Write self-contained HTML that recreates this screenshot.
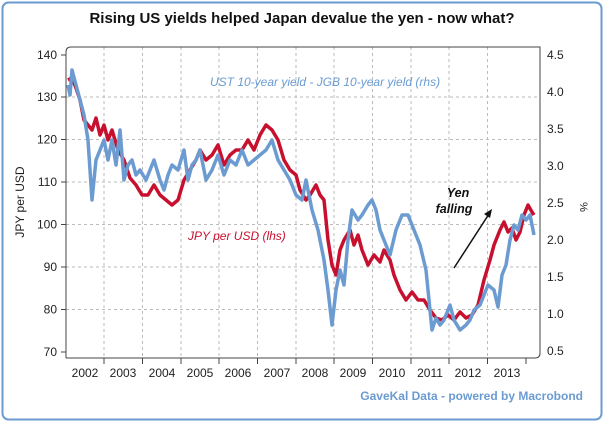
<!DOCTYPE html>
<html><head><style>body{margin:0;background:#fff}svg{display:block;font-family:"Liberation Sans",sans-serif}</style></head><body>
<svg width="605" height="423" viewBox="0 0 605 423">
<rect x="2.5" y="2.5" width="599" height="417" rx="6" fill="#fff" stroke="#6b9bd1" stroke-width="2"/>
<text x="302" y="23" text-anchor="middle" font-size="15" font-weight="bold" fill="#111">Rising US yields helped Japan devalue the yen - now what?</text>
<g stroke="#bbb" stroke-dasharray="3,3" stroke-width="1">
<line x1="66" x2="540" y1="97" y2="97"/><line x1="66" x2="540" y1="139.5" y2="139.5"/><line x1="66" x2="540" y1="182" y2="182"/><line x1="66" x2="540" y1="224.5" y2="224.5"/><line x1="66" x2="540" y1="267" y2="267"/><line x1="66" x2="540" y1="309.5" y2="309.5"/>
<line y1="47" y2="358" x1="104" x2="104"/><line y1="47" y2="358" x1="142.5" x2="142.5"/><line y1="47" y2="358" x1="181" x2="181"/><line y1="47" y2="358" x1="219" x2="219"/><line y1="47" y2="358" x1="257.5" x2="257.5"/><line y1="47" y2="358" x1="296" x2="296"/><line y1="47" y2="358" x1="334" x2="334"/><line y1="47" y2="358" x1="372.5" x2="372.5"/><line y1="47" y2="358" x1="411" x2="411"/><line y1="47" y2="358" x1="449" x2="449"/><line y1="47" y2="358" x1="487.5" x2="487.5"/>
</g>
<path d="M66,358 V52 Q66,47 71,47 H540 V353 Q540,358 535,358 H66" fill="none" stroke="#444"/>
<g stroke="#444"><line x1="61" x2="66" y1="55" y2="55"/><line x1="61" x2="66" y1="97" y2="97"/><line x1="61" x2="66" y1="139.5" y2="139.5"/><line x1="61" x2="66" y1="182" y2="182"/><line x1="61" x2="66" y1="224.5" y2="224.5"/><line x1="61" x2="66" y1="267" y2="267"/><line x1="61" x2="66" y1="309.5" y2="309.5"/><line x1="61" x2="66" y1="352" y2="352"/></g>
<g font-size="12" fill="#222" text-anchor="end"><text x="57" y="59">140</text><text x="57" y="101">130</text><text x="57" y="143.5">120</text><text x="57" y="186">110</text><text x="57" y="228.5">100</text><text x="57" y="271">90</text><text x="57" y="313.5">80</text><text x="57" y="356">70</text></g>
<g font-size="12" fill="#222"><text x="547" y="59">4.5</text><text x="547" y="96">4.0</text><text x="547" y="133">3.5</text><text x="547" y="170">3.0</text><text x="547" y="207">2.5</text><text x="547" y="244">2.0</text><text x="547" y="281">1.5</text><text x="547" y="318">1.0</text><text x="547" y="355">0.5</text></g>
<text transform="translate(24,202) rotate(-90)" text-anchor="middle" font-size="12" fill="#222">JPY per USD</text>
<text transform="translate(580,207) rotate(90)" text-anchor="middle" font-size="11" fill="#222">%</text>
<g font-size="12" fill="#222" text-anchor="middle"><text x="85" y="377">2002</text><text x="123" y="377">2003</text><text x="162" y="377">2004</text><text x="200" y="377">2005</text><text x="238" y="377">2006</text><text x="277" y="377">2007</text><text x="315" y="377">2008</text><text x="353" y="377">2009</text><text x="392" y="377">2010</text><text x="430" y="377">2011</text><text x="468" y="377">2012</text><text x="507" y="377">2013</text></g>
<g stroke="#444"><line x1="104" x2="104" y1="358" y2="364"/><line x1="142.5" x2="142.5" y1="358" y2="364"/><line x1="181" x2="181" y1="358" y2="364"/><line x1="219" x2="219" y1="358" y2="364"/><line x1="257.5" x2="257.5" y1="358" y2="364"/><line x1="296" x2="296" y1="358" y2="364"/><line x1="334" x2="334" y1="358" y2="364"/><line x1="372.5" x2="372.5" y1="358" y2="364"/><line x1="411" x2="411" y1="358" y2="364"/><line x1="449" x2="449" y1="358" y2="364"/><line x1="487.5" x2="487.5" y1="358" y2="364"/><line x1="526" x2="526" y1="358" y2="364"/></g>
<polyline fill="none" stroke="#c8102e" stroke-width="3.5" stroke-linejoin="round" points="68,80 72,78 76,88 80,100 84,120 88,125 92,130 96,118 100,135 104,125 108,140 112,130 118,150 124,160 130,178 136,185 142,195 148,195 154,185 160,195 166,200 172,205 178,200 184,180 190,170 196,160 200,150 206,160 212,155 218,145 224,165 230,155 236,150 242,150 248,140 254,150 260,135 266,125 272,130 278,140 284,160 290,170 296,175 300,190 306,200 310,195 316,185 320,195 324,200 328,240 332,265 336,275 340,250 344,240 350,230 354,245 358,235 362,250 368,265 374,255 380,262 384,250 390,260 394,275 400,290 406,300 412,292 418,300 424,300 430,310 436,318 442,320 448,315 454,320 460,312 466,318 472,315 478,305 484,280 490,260 494,245 500,230 504,222 508,232 512,228 516,240 520,232 524,215 528,205 532,212 534,215"/>
<polyline fill="none" stroke="#6b9bd1" stroke-width="3.5" stroke-linejoin="round" points="68,85 70,95 72,70 76,85 80,100 84,115 88,140 92,200 96,160 100,150 104,140 108,160 112,140 116,165 120,130 124,180 128,165 132,160 136,175 140,170 146,180 150,170 154,160 160,180 164,190 168,175 172,165 178,170 184,150 188,180 192,165 196,160 200,150 206,180 212,170 218,155 224,175 230,160 236,165 242,150 248,165 254,160 260,155 266,150 272,140 278,160 284,170 290,180 296,195 302,200 306,180 312,210 318,230 324,260 328,290 332,325 336,290 340,270 344,285 348,240 352,210 358,220 362,215 368,205 372,200 376,210 380,230 384,240 390,255 396,230 402,215 408,215 414,230 420,245 426,270 432,330 436,318 440,325 444,320 450,305 454,320 460,330 466,325 470,320 474,310 480,305 484,295 488,285 494,290 498,307 502,275 506,265 510,240 514,225 518,230 522,215 526,220 530,215 534,235"/>
<text x="210" y="86" font-size="12" font-style="italic" fill="#6b9bd1">UST 10-year yield - JGB 10-year yield (rhs)</text>
<text x="188" y="240" font-size="12" font-style="italic" fill="#c8102e">JPY per USD (lhs)</text>
<text x="458" y="197" font-size="12.5" font-style="italic" font-weight="bold" fill="#111" text-anchor="middle">Yen</text>
<text x="454" y="213" font-size="12.5" font-style="italic" font-weight="bold" fill="#111" text-anchor="middle">falling</text>
<line x1="454" y1="268" x2="489" y2="214" stroke="#111" stroke-width="1.5"/>
<polygon points="492,209 484,214 490,218" fill="#111"/>
<text x="583" y="400" font-size="12" font-weight="bold" fill="#6b9bd1" text-anchor="end">GaveKal Data - powered by Macrobond</text>
</svg>
</body></html>
